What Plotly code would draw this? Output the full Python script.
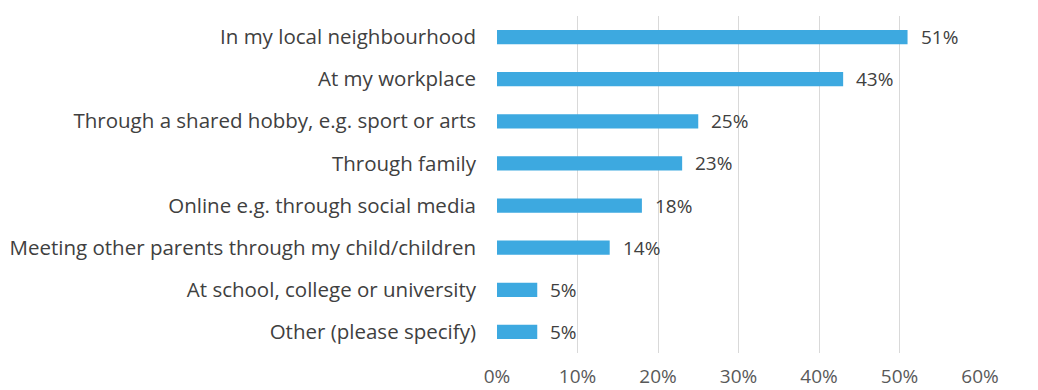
import plotly.graph_objects as go

categories = [
    "In my local neighbourhood",
    "At my workplace",
    "Through a shared hobby, e.g. sport or arts",
    "Through family",
    "Online e.g. through social media",
    "Meeting other parents through my child/children",
    "At school, college or university",
    "Other (please specify)",
]
values = [51, 43, 25, 23, 18, 14, 5, 5]
tick_values = [0, 10, 20, 30, 40, 50, 60]
tick_labels = ["0%", "10%", "20%", "30%", "40%", "50%", "60%"]

BAR_COLOR = "#3DA9E0"
TEXT_COLOR = "#404040"
FONT = "Open Sans"

fig = go.Figure(
    go.Bar(
        x=values,
        y=categories,
        orientation="h",
        marker=dict(color=BAR_COLOR, line=dict(width=0)),
        hoverinfo="skip",
    )
)

# value labels placed just past the end of each bar
for cat, v in zip(categories, values):
    fig.add_annotation(
        x=v, y=cat, text=f"{v}%", showarrow=False,
        xanchor="left", xshift=11,
        font=dict(family=FONT, size=19, color=TEXT_COLOR),
    )

fig.update_layout(
    width=1038, height=390,
    margin=dict(l=497, r=58, t=16, b=37),
    paper_bgcolor="white", plot_bgcolor="white",
    bargap=0.66,
    showlegend=False,
    font=dict(family=FONT, size=19, color=TEXT_COLOR),
)
fig.update_xaxes(
    range=[0, 60],
    tickvals=tick_values, ticktext=tick_labels,
    showgrid=True, gridcolor="#D9D9D9", gridwidth=1,
    zeroline=False, showline=False,
    tickfont=dict(family=FONT, size=19, color="#595959"),
    ticklabelstandoff=10,
    automargin=False,
)
fig.update_yaxes(
    categoryorder="array", categoryarray=categories[::-1],
    showgrid=False, zeroline=False, showline=False,
    tickfont=dict(family=FONT, size=20.5, color=TEXT_COLOR),
    ticklabelstandoff=20,
    automargin=False,
)

fig.write_html("out.html")
